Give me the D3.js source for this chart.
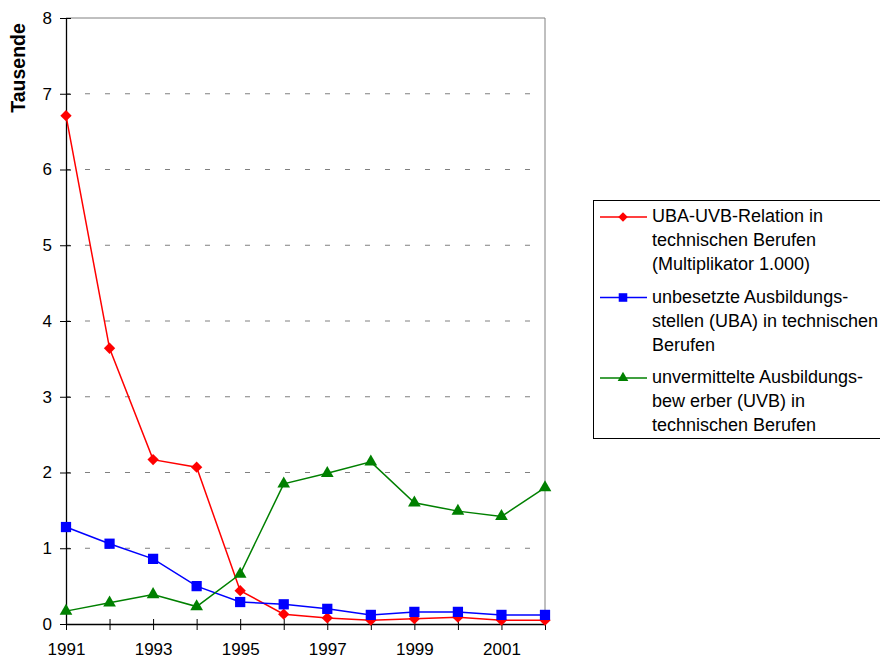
<!DOCTYPE html>
<html>
<head>
<meta charset="utf-8">
<script src="https://cdn.jsdelivr.net/npm/d3@7"></script>
<style>
  body { margin: 0; background: #fff; }
  svg { font-family: "Liberation Sans", Arial, sans-serif; }
</style>
</head>
<body>
<div id="chart"></div>
<script>
// Jahre und Werte (Tausende)
const years = [1991, 1992, 1993, 1994, 1995, 1996, 1997, 1998, 1999, 2000, 2001, 2002];
const relation = [6.71, 3.64, 2.17, 2.07, 0.44, 0.13, 0.08, 0.05, 0.07, 0.09, 0.05, 0.05];
const uba = [1.28, 1.06, 0.86, 0.50, 0.29, 0.26, 0.20, 0.12, 0.16, 0.16, 0.12, 0.12];
const uvb = [0.17, 0.28, 0.39, 0.23, 0.66, 1.85, 1.99, 2.14, 1.60, 1.49, 1.42, 1.80];
const yTicks = [0, 1, 2, 3, 4, 5, 6, 7, 8];
const xLabels = [1991, 1993, 1995, 1997, 1999, 2001];

const series = [
  { name: ['UBA-UVB-Relation in', 'technischen Berufen', '(Multiplikator 1.000)'], values: relation, color: '#ff0000', symbol: d3.symbolSquare, size: 64, rotate: 45 },
  { name: ['unbesetzte Ausbildungs-', 'stellen (UBA) in technischen', 'Berufen'], values: uba, color: '#0000ff', symbol: d3.symbolSquare, size: 105, rotate: 0 },
  { name: ['unvermittelte Ausbildungs-', 'bew erber (UVB) in', 'technischen Berufen'], values: uvb, color: '#008000', symbol: d3.symbolTriangle, size: 70, rotate: 0 }
];

const width = 880, height = 661;
const margin = { top: 18, right: 335, bottom: 37, left: 66 };

const svg = d3.select('#chart').append('svg')
  .attr('width', width)
  .attr('height', height);

const x = d3.scaleLinear()
  .domain([1991, 2002])
  .range([margin.left, width - margin.right]);

const y = d3.scaleLinear()
  .domain([0, 8])
  .range([height - margin.bottom, margin.top]);

// Gitterlinien
svg.append('g')
  .selectAll('line')
  .data(yTicks.filter(d => d > 0 && d < 8))
  .enter()
  .append('line')
  .attr('x1', margin.left)
  .attr('x2', width - margin.right)
  .attr('y1', d => y(d))
  .attr('y2', d => y(d))
  .attr('stroke', '#808080')
  .attr('stroke-dasharray', '5,15')
  .attr('stroke-dashoffset', 1);

// Rahmen oben / rechts
svg.append('path')
  .attr('d', `M${margin.left},${y(8)}H${x(2002)}V${y(0)}`)
  .attr('fill', 'none')
  .attr('stroke', '#808080');

// Achsen
const yAxis = svg.append('g')
  .attr('transform', `translate(${margin.left},0)`)
  .call(d3.axisLeft(y).tickValues(yTicks).tickSizeInner(6).tickSizeOuter(0).tickPadding(8).tickFormat(d3.format('d')));
yAxis.selectAll('.tick line').attr('x1', 5);

const xAxis = svg.append('g')
  .attr('transform', `translate(0,${y(0)})`)
  .call(d3.axisBottom(x).tickValues(years).tickSizeInner(6).tickSizeOuter(0).tickPadding(13)
    .tickFormat(d => xLabels.includes(d) ? d : ''));
xAxis.selectAll('.tick line').attr('y1', -5);

[yAxis, xAxis].forEach(a => {
  a.select('.domain').attr('stroke', '#000').attr('stroke-width', 1.3);
  a.selectAll('.tick line').attr('stroke', '#000');
  a.selectAll('text').attr('font-size', '17px').attr('fill', '#000')
    .style('font-family', '"Liberation Sans", Arial, sans-serif');
});

// Achsentitel
svg.append('text')
  .attr('transform', `translate(25,68) rotate(-90)`)
  .attr('text-anchor', 'middle')
  .attr('font-size', '19.5px')
  .attr('font-weight', 'bold')
  .text('Tausende');

// Linien und Marker
const line = d3.line()
  .x((d, i) => x(years[i]))
  .y(d => y(d));

series.forEach(s => {
  svg.append('path')
    .datum(s.values)
    .attr('d', line)
    .attr('fill', 'none')
    .attr('stroke', s.color)
    .attr('stroke-width', 1.5);

  svg.append('g')
    .selectAll('path')
    .data(s.values)
    .enter()
    .append('path')
    .attr('d', d3.symbol().type(s.symbol).size(s.size))
    .attr('transform', (d, i) => `translate(${x(years[i])},${y(d)}) rotate(${s.rotate})`)
    .attr('fill', s.color);
});

// Legende
const legend = svg.append('g')
  .attr('transform', 'translate(593,200)');

legend.append('rect')
  .attr('x', 0.5)
  .attr('y', 0.5)
  .attr('width', 320)
  .attr('height', 238)
  .attr('fill', '#fff')
  .attr('stroke', '#000');

const items = legend.selectAll('.legend-item')
  .data(series)
  .enter()
  .append('g')
  .attr('class', 'legend-item')
  .attr('transform', (d, i) => `translate(0,${i * 80.5})`);

items.append('line')
  .attr('x1', 7)
  .attr('x2', 54)
  .attr('y1', 17)
  .attr('y2', 17)
  .attr('stroke', d => d.color)
  .attr('stroke-width', 1.5);

items.append('path')
  .attr('d', d => d3.symbol().type(d.symbol).size(d.size * 0.7)())
  .attr('transform', d => `translate(30,17) rotate(${d.rotate})`)
  .attr('fill', d => d.color);

items.append('text')
  .attr('x', 59)
  .attr('y', 22)
  .attr('font-size', '18px')
  .selectAll('tspan')
  .data(d => d.name)
  .enter()
  .append('tspan')
  .attr('x', 59)
  .attr('dy', (d, i) => i === 0 ? 0 : 24)
  .text(d => d);
</script>
</body>
</html>
